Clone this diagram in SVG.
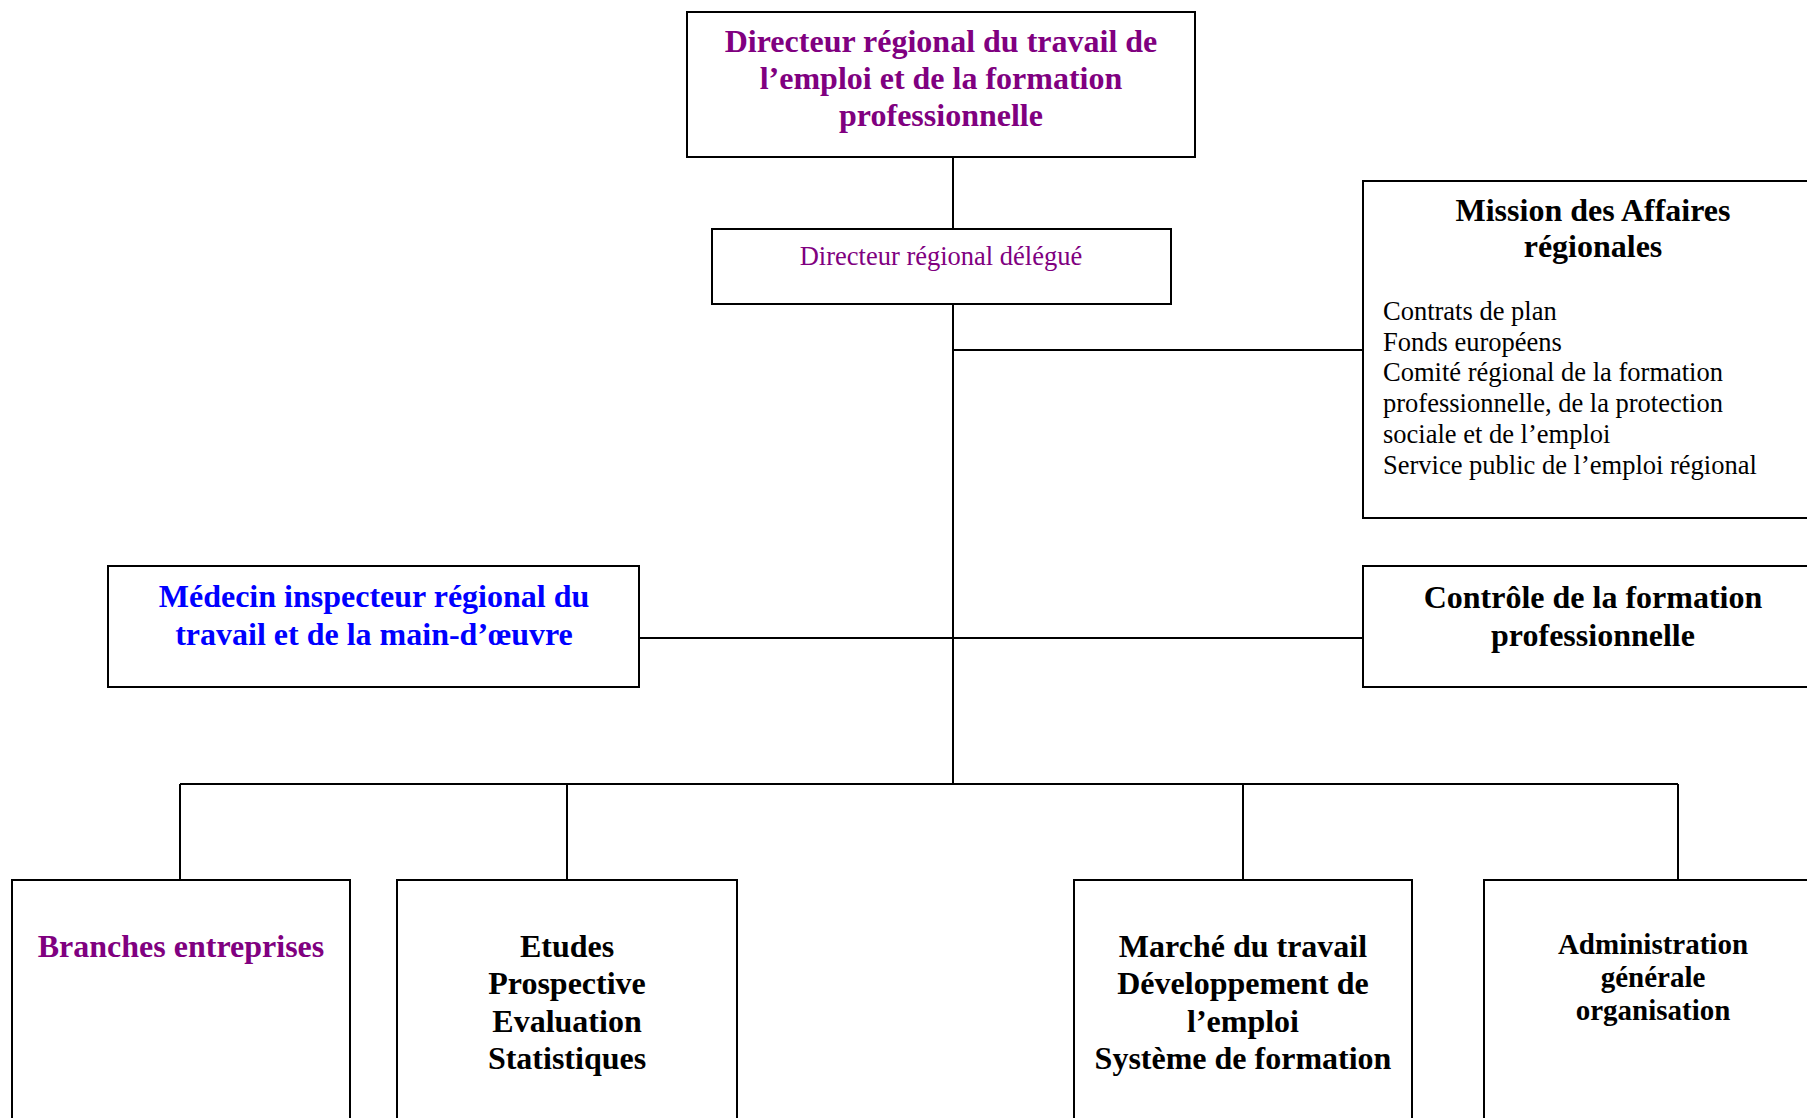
<svg xmlns="http://www.w3.org/2000/svg" width="1807" height="1118" viewBox="0 0 1807 1118">
<style>
.box{fill:#fff;stroke:#000;stroke-width:2}
.ln{fill:none;stroke:#000;stroke-width:2}
text{font-family:"Liberation Serif","Times New Roman",serif}
.b{font-weight:bold;font-size:32px;text-anchor:middle}
.r{font-size:26.5px}
.purple{fill:#800080}
.blue{fill:#0000ff}
.blk{fill:#000}
</style>
<rect x="0" y="0" width="1807" height="1118" fill="#fff"/>
<g id="connectors">
<path class="ln" d="M953,157 V229"/>
<path class="ln" d="M953,304 V784"/>
<path class="ln" d="M953,350 H1363"/>
<path class="ln" d="M639,638 H1363"/>
<path class="ln" d="M180,784 H1678"/>
<path class="ln" d="M180,784 V880"/>
<path class="ln" d="M567,784 V880"/>
<path class="ln" d="M1243,784 V880"/>
<path class="ln" d="M1678,784 V880"/>
</g>
<g id="directeur">
<rect class="box" x="687" y="12" width="508" height="145"/>
<text class="b purple" x="941" y="52">Directeur régional du travail de</text>
<text class="b purple" x="941" y="88.5">l’emploi et de la formation</text>
<text class="b purple" x="941" y="125.5">professionnelle</text>
</g>
<g id="delegue">
<rect class="box" x="712" y="229" width="459" height="75"/>
<text class="r purple" x="941" y="265" text-anchor="middle">Directeur régional délégué</text>
</g>
<g id="mission">
<rect class="box" x="1363" y="181" width="470" height="337"/>
<text class="b blk" x="1593" y="220.5">Mission des Affaires</text>
<text class="b blk" x="1593" y="257">régionales</text>
<text class="r blk" x="1383" y="320">Contrats de plan</text>
<text class="r blk" x="1383" y="350.7">Fonds européens</text>
<text class="r blk" x="1383" y="381.4">Comité régional de la formation</text>
<text class="r blk" x="1383" y="412.1">professionnelle, de la protection</text>
<text class="r blk" x="1383" y="442.8">sociale et de l’emploi</text>
<text class="r blk" x="1383" y="473.5">Service public de l’emploi régional</text>
</g>
<g id="medecin">
<rect class="box" x="108" y="566" width="531" height="121"/>
<text class="b blue" x="374" y="607">Médecin inspecteur régional du</text>
<text class="b blue" x="374" y="644.5">travail et de la main-d’œuvre</text>
</g>
<g id="controle">
<rect class="box" x="1363" y="566" width="470" height="121"/>
<text class="b blk" x="1593" y="608">Contrôle de la formation</text>
<text class="b blk" x="1593" y="645.5">professionnelle</text>
</g>
<g id="branches">
<rect class="box" x="12" y="880" width="338" height="260"/>
<text class="b purple" x="181" y="957">Branches entreprises</text>
</g>
<g id="etudes">
<rect class="box" x="397" y="880" width="340" height="260"/>
<text class="b blk" x="567" y="957">Etudes</text>
<text class="b blk" x="567" y="994">Prospective</text>
<text class="b blk" x="567" y="1031.5">Evaluation</text>
<text class="b blk" x="567" y="1069">Statistiques</text>
</g>
<g id="marche">
<rect class="box" x="1074" y="880" width="338" height="260"/>
<text class="b blk" x="1243" y="957">Marché du travail</text>
<text class="b blk" x="1243" y="994">Développement de</text>
<text class="b blk" x="1243" y="1031.5">l’emploi</text>
<text class="b blk" x="1243" y="1069">Système de formation</text>
</g>
<g id="administration">
<rect class="box" x="1484" y="880" width="360" height="260"/>
<text class="b blk" x="1653" y="954" style="font-size:29px">Administration</text>
<text class="b blk" x="1653" y="987" style="font-size:29px">générale</text>
<text class="b blk" x="1653" y="1020" style="font-size:29px">organisation</text>
</g>
</svg>
